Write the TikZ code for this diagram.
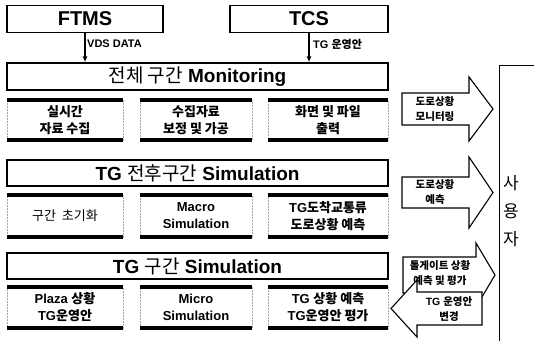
\documentclass[tikz,border=0pt]{standalone}
\usepackage{fontspec}
\setmainfont{Liberation Sans}
\newfontfamily\kr{Noto Sans CJK KR}
\usetikzlibrary{arrows.meta}
\begin{document}
\begin{tikzpicture}[x=1pt,y=-1pt,
  mainbox/.style={draw, line width=1.4pt, fill=white, inner sep=0pt},
  subbox/.style={draw=gray!70, densely dotted, line width=0.5pt, inner sep=0pt, align=center, font=\fontsize{13}{17}\selectfont\bfseries},
  bar/.style={line width=3.6pt, black},
  conn/.style={line width=2pt, -{Latex[length=6pt,width=5pt]}},
  lbl/.style={anchor=west, inner sep=0pt, font=\fontsize{11}{13}\selectfont\bfseries},
  blockarrow/.style={draw, line width=1.1pt, fill=white, line join=miter},
  atext/.style={inner sep=0pt, align=center, font=\fontsize{10.5}{15}\selectfont\bfseries\kr}
]
\useasboundingbox (0,0) rectangle (534,340);

% top source boxes
\node[mainbox, minimum width=156pt, minimum height=27pt] (ftms) at (85,19) {\fontsize{20}{22}\selectfont\bfseries FTMS};
\node[mainbox, minimum width=158pt, minimum height=27pt] (tcs) at (309,19) {\fontsize{20}{22}\selectfont\bfseries TCS};

% level boxes
\node[mainbox, minimum width=381pt, minimum height=27pt] (mon) at (197.5,76.5) {\fontsize{19}{22}\selectfont{\kr 전체 구간} \bfseries Monitoring};
\node[mainbox, minimum width=381pt, minimum height=26pt] (sim2) at (197.5,173) {\fontsize{19}{22}\selectfont\bfseries TG {\kr\mdseries 전후구간} Simulation};
\node[mainbox, minimum width=381pt, minimum height=26pt] (sim3) at (197.5,266) {\fontsize{19}{22}\selectfont\bfseries TG {\kr\mdseries 구간} Simulation};

% connectors
\draw[conn] (ftms.south) -- (ftms.south |- mon.north);
\draw[conn] (tcs.south) -- (tcs.south |- mon.north);
\node[lbl] (lvds) at (87,44) {VDS DATA};
\node[lbl] (ltg) at (313,44) {TG {\kr 운영안}};

% sub boxes row 1
\node[subbox, minimum width=116pt, minimum height=40pt] (s11) at (65,120) {{\kr 실시간}\\{\kr 자료 수집}};
\node[subbox, minimum width=112pt, minimum height=40pt] (s12) at (196,120) {{\kr 수집자료}\\{\kr 보정 및 가공}};
\node[subbox, minimum width=120pt, minimum height=40pt] (s13) at (328,120) {{\kr 화면 및 파일}\\{\kr 출력}};
% row 2
\node[subbox, minimum width=116pt, minimum height=42pt] (s21) at (65,216) {{\kr\mdseries 구간\ \ 초기화}};
\node[subbox, minimum width=112pt, minimum height=42pt] (s22) at (196,216) {Macro\\Simulation};
\node[subbox, minimum width=120pt, minimum height=42pt] (s23) at (328,216) {TG{\kr 도착교통류}\\{\kr 도로상황 예측}};
% row 3
\node[subbox, minimum width=116pt, minimum height=41pt] (s31) at (65,307.5) {Plaza {\kr 상황}\\TG{\kr 운영안}};
\node[subbox, minimum width=112pt, minimum height=41pt] (s32) at (196,307.5) {Micro\\Simulation};
\node[subbox, minimum width=120pt, minimum height=41pt] (s33) at (328,307.5) {TG {\kr 상황 예측}\\TG{\kr 운영안 평가}};

\foreach \n in {s11,s12,s13,s21,s22,s23,s31,s32,s33}{
  \draw[bar] (\n.north west) -- (\n.north east);
  \draw[bar] (\n.south west) -- (\n.south east);
}

% user box
\node[draw, line width=0.9pt, minimum width=50pt, minimum height=285pt, inner sep=0pt] (user) at (524,207.5) {};
\node[inner sep=0pt, align=center, font=\fontsize{17}{28}\selectfont\kr] (usertext) at (511,211) {사\\용\\자};

% block arrows
\draw[blockarrow] (402,93) -- (469,93) -- (469,77) -- (493,109) -- (469,141) -- (469,125) -- (402,125) -- cycle;
\node[atext] (a1) at (435,109) {도로상황\\모니터링};

\draw[blockarrow] (402,177) -- (469,177) -- (469,157) -- (493,192.5) -- (469,228) -- (469,208) -- (402,208) -- cycle;
\node[atext] (a2) at (435,192.5) {도로상황\\예측};

\draw[blockarrow] (403,257) -- (476,257) -- (476,243) -- (495,275) -- (476,307) -- (476,293) -- (403,293) -- cycle;
\node[atext] (a3) at (440,273) {톨게이트 상황\\예측 및 평가};

\draw[blockarrow] (482,292) -- (417,292) -- (417,280) -- (391,308.5) -- (417,337) -- (417,325) -- (482,325) -- cycle;
\node[atext] (a4) at (449,309) {\rmfamily TG {\kr 운영안}\\변경};
\end{tikzpicture}
\end{document}
